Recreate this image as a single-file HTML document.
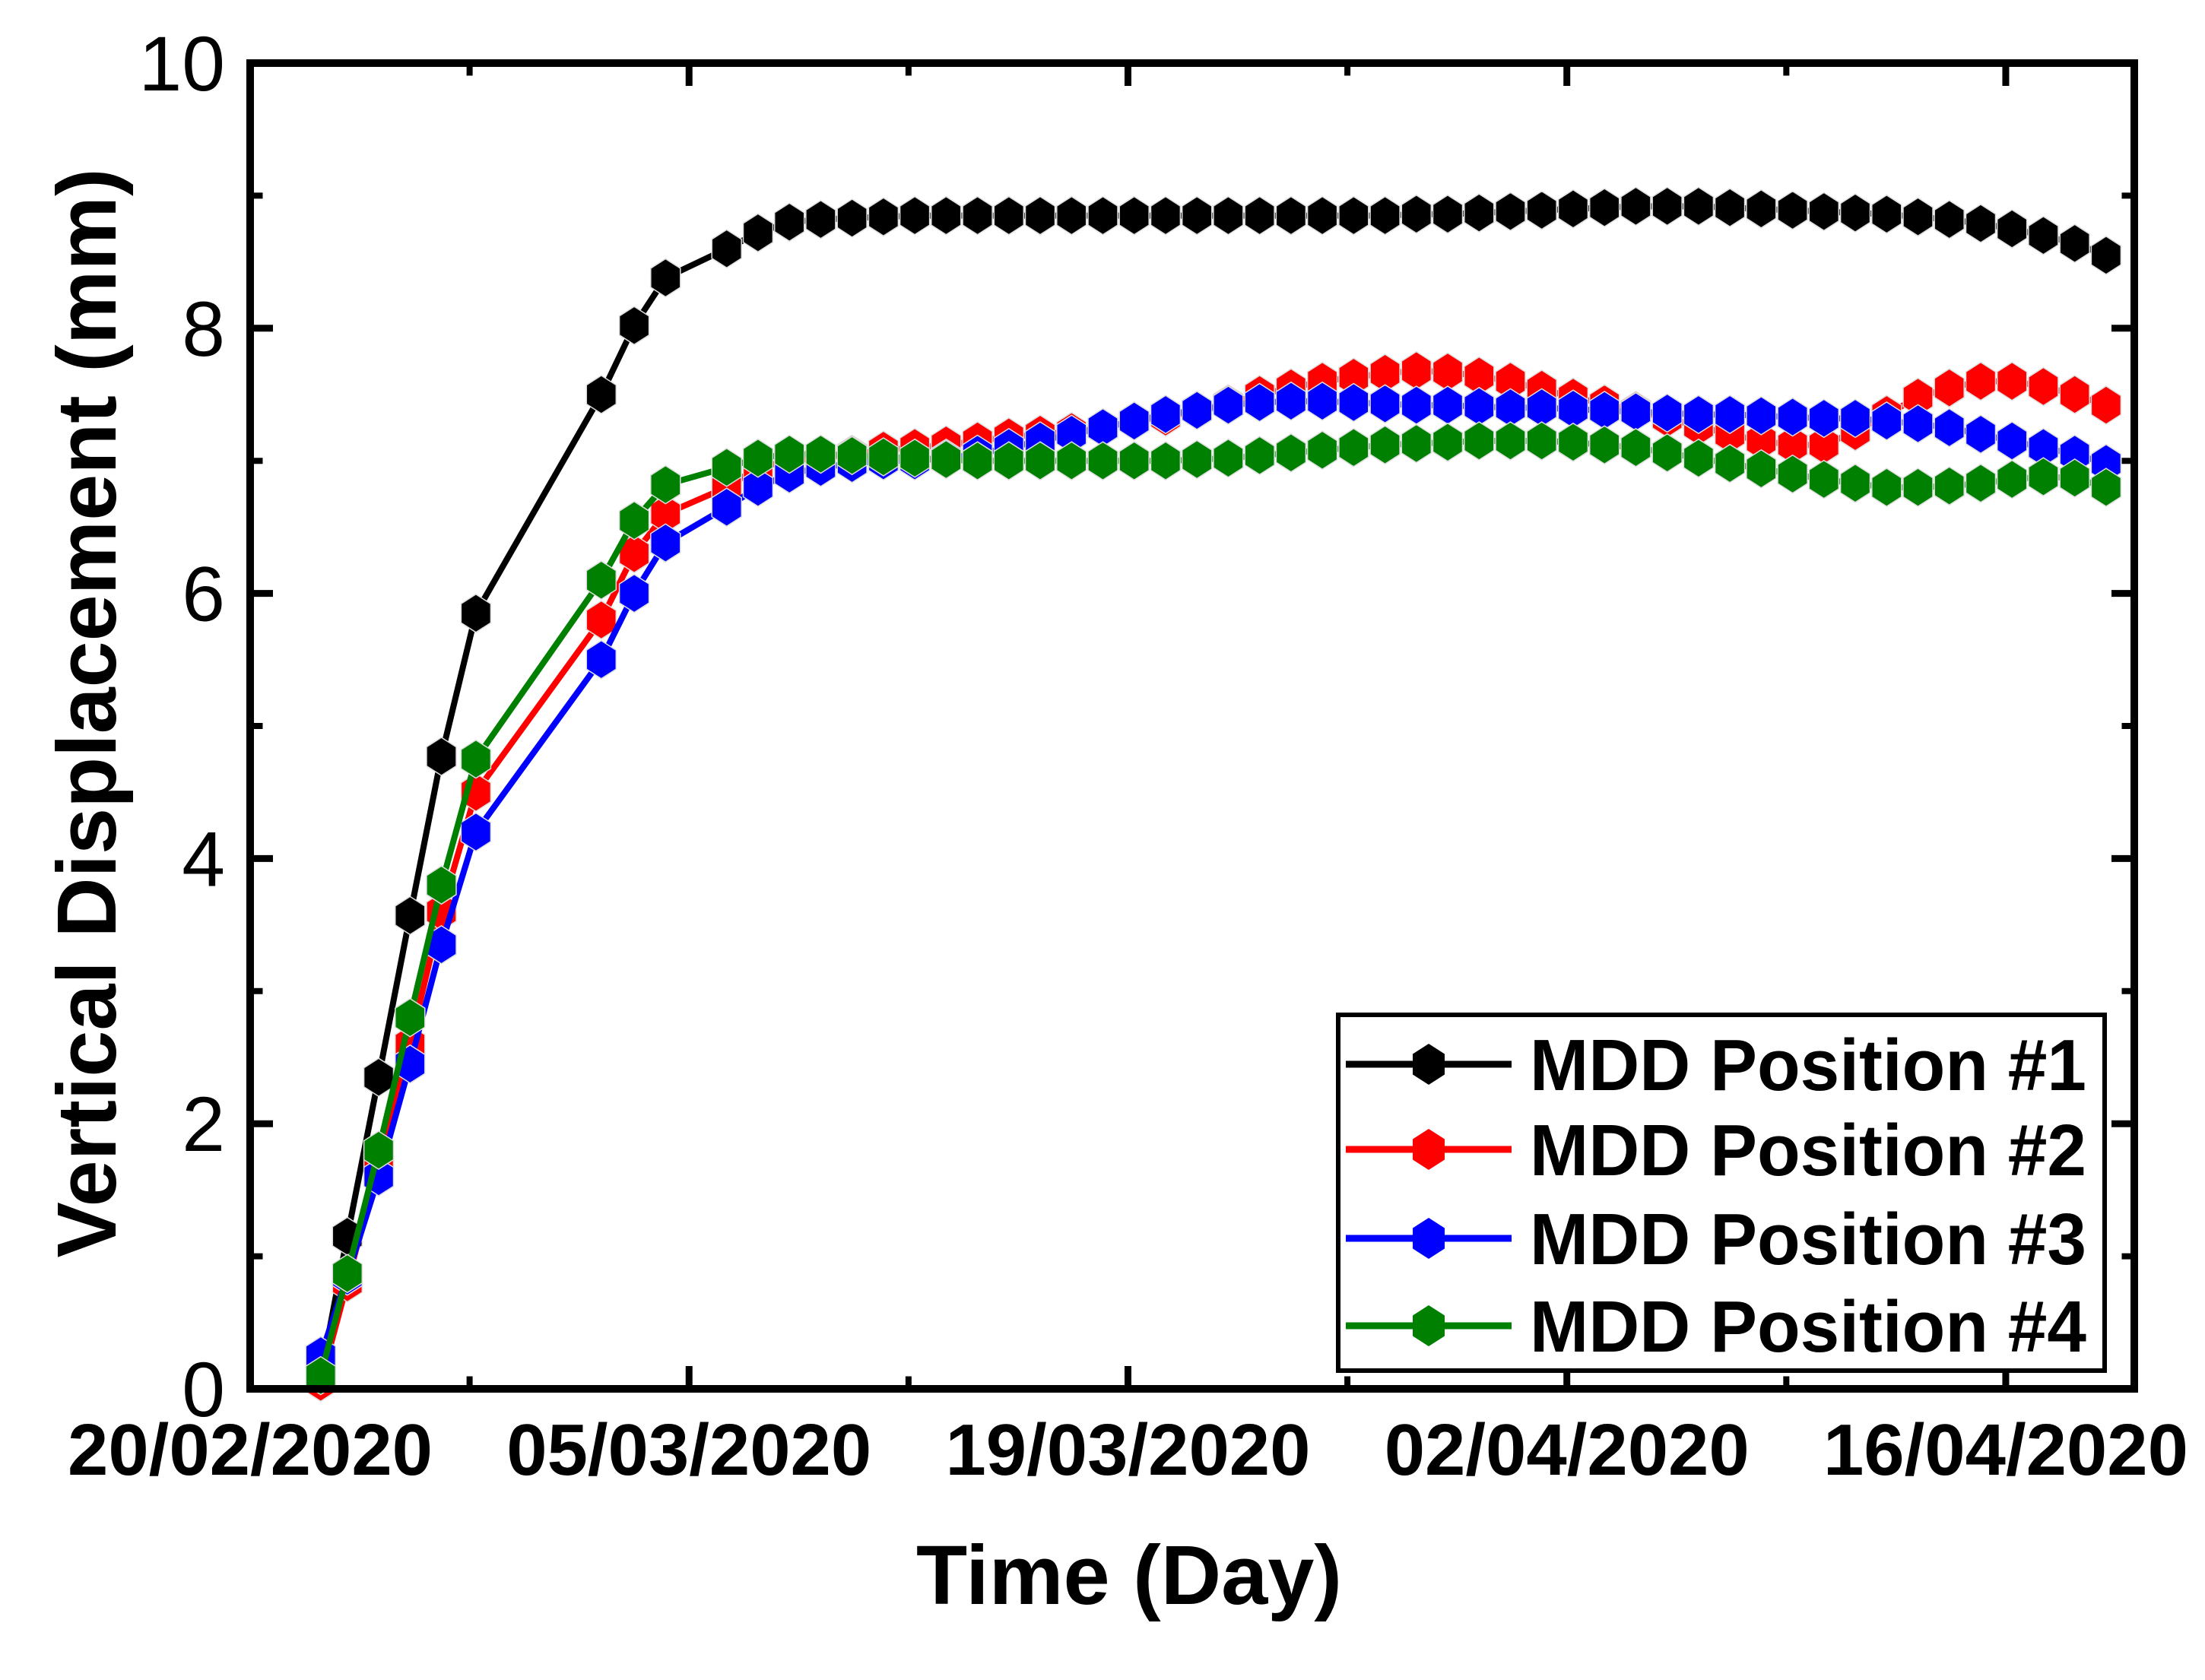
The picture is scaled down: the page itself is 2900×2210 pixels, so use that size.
<!DOCTYPE html>
<html><head><meta charset="utf-8"><style>
html,body{margin:0;padding:0;background:#fff;}
svg{display:block;}
text{font-family:"Liberation Sans",Arial,sans-serif;}
</style></head><body>
<svg id="chart" width="2900" height="2210" viewBox="0 0 2900 2210" xmlns="http://www.w3.org/2000/svg">
<rect x="0" y="0" width="2900" height="2210" fill="#fff"/>
<g id="ticks"></g>
<g id="series"></g>
<rect x="329" y="83" width="2478" height="1744" fill="none" stroke="#000" stroke-width="10"/>
<g id="labels"></g>
<text x="1485" y="2110" font-size="110" font-weight="bold" text-anchor="middle" textLength="560" lengthAdjust="spacingAndGlyphs">Time (Day)</text>
<text transform="translate(152,938) rotate(-90)" font-size="110" font-weight="bold" text-anchor="middle" textLength="1433" lengthAdjust="spacingAndGlyphs">Vertical Displacement (mm)</text>
<g id="legend"></g>
</svg>
<script>
const xTickDays = [0, 14, 28, 42, 56];
const xTickLabels = ["20/02/2020", "05/03/2020", "19/03/2020", "02/04/2020", "16/04/2020"];
const yTickValues = [0, 2, 4, 6, 8, 10];
const earlyDays = [2.25, 3.1, 4.1, 5.1, 6.1, 7.2, 11.2, 12.25, 13.25];
const plateauStartDay = 15.2;
const seriesNames = ["MDD Position #1", "MDD Position #2", "MDD Position #3", "MDD Position #4"];
const blackValues = [0.1,1.15,2.35,3.57,4.77,5.85,7.5,8.02,8.38,
 8.6,8.72,8.8,8.82,8.83,8.84,8.85,8.85,8.85,8.85,8.85,8.85,8.85,8.85,8.85,8.85,8.85,8.85,8.85,8.85,8.85,8.85,8.86,8.86,8.87,8.88,8.89,8.9,8.91,8.92,8.92,8.92,8.91,8.9,8.89,8.88,8.87,8.86,8.84,8.82,8.79,8.75,8.7,8.64,8.55];
const redValues = [0.05,0.8,1.7,2.6,3.6,4.5,5.8,6.3,6.6,
 6.8,6.95,7.0,7.02,7.05,7.08,7.1,7.12,7.15,7.18,7.2,7.22,7.25,7.3,7.33,7.38,7.43,7.5,7.55,7.6,7.63,7.66,7.68,7.67,7.64,7.6,7.54,7.48,7.43,7.38,7.32,7.26,7.2,7.15,7.12,7.12,7.22,7.35,7.48,7.55,7.6,7.6,7.56,7.5,7.42];
const blueValues = [0.25,0.85,1.6,2.45,3.35,4.2,5.5,6.0,6.38,
 6.65,6.8,6.9,6.95,6.98,7.0,7.0,7.02,7.05,7.1,7.15,7.2,7.25,7.3,7.35,7.38,7.42,7.44,7.45,7.45,7.44,7.43,7.42,7.42,7.41,7.4,7.4,7.39,7.38,7.37,7.36,7.35,7.35,7.34,7.33,7.32,7.32,7.3,7.28,7.25,7.2,7.15,7.1,7.05,6.98];
const greenValues = [0.1,0.87,1.8,2.8,3.8,4.75,6.1,6.55,6.82,
 6.95,7.02,7.05,7.05,7.04,7.03,7.02,7.01,7.0,7.0,7.0,7.0,7.0,7.0,7.0,7.01,7.02,7.04,7.06,7.08,7.1,7.12,7.13,7.14,7.15,7.15,7.15,7.14,7.12,7.1,7.06,7.02,6.98,6.94,6.9,6.86,6.83,6.8,6.8,6.81,6.83,6.86,6.88,6.87,6.8];

const NS = "http://www.w3.org/2000/svg";
const L = 329, R = 2807, T = 83, B = 1827;
const xMax = 60.1;
const xs = d => L + (d / xMax) * (R - L);
const ys = v => B - (v / 10) * (B - T);
function mk(tag, attrs, parent) {
  const e = document.createElementNS(NS, tag);
  for (const k in attrs) e.setAttribute(k, attrs[k]);
  parent.appendChild(e);
  return e;
}
const days = earlyDays.slice();
for (let i = 0; days.length < blackValues.length; i++) days.push(plateauStartDay + i);

const tg = document.getElementById("ticks");
const lg = document.getElementById("labels");
xTickDays.forEach((d, i) => {
  const x = xs(d);
  [[B, -30], [T, 30]].forEach(([y0, len]) => {
    const t = mk("line", {x1: x, x2: x, y1: y0, y2: y0 + len, stroke: "#000", "stroke-width": 9}, tg);
    
    
    const m = mk("line", {x1: xs(d + 7), x2: xs(d + 7), y1: y0, y2: y0 + len * 0.55, stroke: "#000", "stroke-width": 8}, tg);
    
    
  });
  const tx = mk("text", {x: x, y: 1940, "font-size": 96, "font-weight": "bold", "text-anchor": "middle", textLength: 480, lengthAdjust: "spacingAndGlyphs"}, lg);
  tx.textContent = xTickLabels[i];
  
  
});
yTickValues.forEach(v => {
  const y = ys(v);
  [[L, 30], [R, -30]].forEach(([x0, len]) => {
    const t = mk("line", {x1: x0, x2: x0 + len, y1: y, y2: y, stroke: "#000", "stroke-width": 9}, tg);
    
    
    if (v < 10) {
      const m = mk("line", {x1: x0, x2: x0 + len * 0.55, y1: ys(v + 1), y2: ys(v + 1), stroke: "#000", "stroke-width": 8}, tg);
      
      
    }
  });
  const tx = mk("text", {x: 296, y: y + 36, "font-size": 102, "text-anchor": "end"}, lg);
  tx.textContent = String(v);
  
  
});

function hex(cx, cy, r) {
  const p = [];
  for (let k = 0; k < 6; k++) {
    const a = Math.PI / 2 + k * Math.PI / 3;
    p.push((cx + r * 0.9 * Math.cos(a)).toFixed(1) + "," + (cy - r * Math.sin(a)).toFixed(1));
  }
  return p.join(" ");
}
const colors = ["#000000", "#ff0000", "#0000ff", "#008000"];
const allSeries = [blackValues, redValues, blueValues, greenValues];
const keys = ["black", "red", "blue", "green"];
const sg = document.getElementById("series");
allSeries.forEach((vals, si) => {
  const g = mk("g", {}, sg);
  
  
  const pts = vals.map((v, i) => xs(days[i]).toFixed(1) + "," + ys(v).toFixed(1)).join(" ");
  const pl = mk("polyline", {points: pts, fill: "none", stroke: colors[si], "stroke-width": 8, "stroke-linejoin": "round"}, g);
  
  
  vals.forEach((v, i) => {
    const h = mk("polygon", {points: hex(xs(days[i]), ys(v), 25), fill: colors[si], stroke: "#ddd", "stroke-width": 1.5}, g);
    
    
  });
});

const leg = document.getElementById("legend");
const box = mk("rect", {x: 1760, y: 1335, width: 1008, height: 468, fill: "#fff", stroke: "#000", "stroke-width": 6}, leg);


const rowY = [1400, 1512, 1629, 1744];
seriesNames.forEach((n, i) => {
  const g = mk("g", {}, leg);
  
  
  const ln = mk("line", {x1: 1770, x2: 1988, y1: rowY[i], y2: rowY[i], stroke: colors[i], "stroke-width": 9}, g);
  
  
  const h = mk("polygon", {points: hex(1879, rowY[i], 27), fill: colors[i]}, g);
  
  
  const t = mk("text", {x: 2012, y: rowY[i] + 34, "font-size": 96, "font-weight": "bold", textLength: 732, lengthAdjust: "spacingAndGlyphs"}, g);
  t.textContent = n;
  
  
});
</script>
</body></html>
